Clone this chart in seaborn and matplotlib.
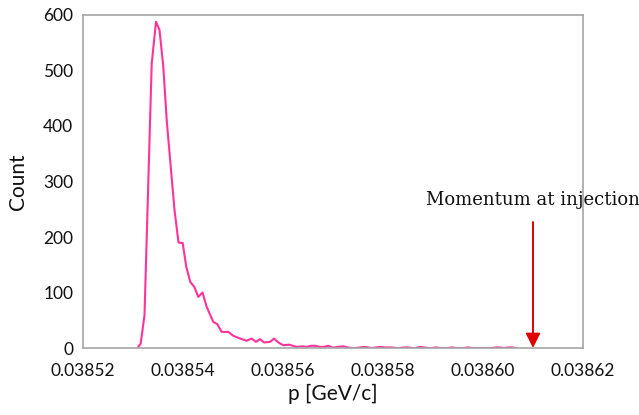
import numpy as np
import pandas as pd
import matplotlib
matplotlib.use("Agg")
import matplotlib.pyplot as plt
import seaborn as sns

# momentum bins [GeV/c]
p_values = [
    0.0385309, 0.03853154, 0.0385323, 0.03853374, 0.0385346, 0.0385353,
    0.03853606, 0.03853674, 0.03853754, 0.0385383, 0.0385391, 0.03853994,
    0.03854066, 0.03854146, 0.03854226, 0.03854306, 0.0385439, 0.03854474,
    0.03854606, 0.03854686, 0.03854774, 0.03854906, 0.03855006, 0.03855174,
    0.03855274, 0.03855374, 0.0385546, 0.0385554, 0.0385562, 0.0385574,
    0.0385582, 0.03855906, 0.03856006, 0.0385612, 0.03856274, 0.0385638,
    0.03856474, 0.0385656, 0.0385664, 0.0385674, 0.0385682, 0.03856906,
    0.03857, 0.038571, 0.03857206, 0.038573,
    0.0385738, 0.0385746, 0.0385754, 0.0385762, 0.038577, 0.0385778,
    0.0385786, 0.0385794, 0.0385802, 0.038581, 0.0385818, 0.0385826,
    0.0385834, 0.0385842, 0.038585, 0.0385858, 0.0385866, 0.0385874,
    0.0385882, 0.038589, 0.0385898, 0.0385906, 0.0385914, 0.0385922,
    0.038593, 0.0385938, 0.0385946, 0.0385954, 0.0385962, 0.038597,
    0.0385978, 0.0385986, 0.0385994, 0.0386002, 0.038601, 0.0386018,
    0.0386026, 0.0386034, 0.0386042, 0.038605, 0.0386058, 0.0386066,
]
counts = [
    0, 8, 59, 512, 588, 573,
    507, 411, 327, 249, 190, 189,
    146, 119, 110, 92, 100, 74,
    47, 43, 29, 29, 22, 16,
    13, 17, 11, 16, 10, 11,
    17, 10, 5, 6, 2, 3,
    2, 4, 4, 2, 2, 4,
    0.5, 2, 3, 1,
    0, 0, 1, 2, 1, 0,
    1, 2, 1, 1, 1, 0,
    0, 1, 1, 0, 0, 2,
    1, 0, 0, 1, 0, 0,
    0, 1, 0, 0, 0, 1,
    0, 0, 0, 0, 0, 0,
    1, 1, 0, 1, 1, 0,
]

x_ticks = [0.03852, 0.03854, 0.03856, 0.03858, 0.03860, 0.03862]
x_tick_labels = ["0.03852", "0.03854", "0.03856", "0.03858", "0.03860", "0.03862"]
y_ticks = [0, 100, 200, 300, 400, 500, 600]
injection_p = 0.03861
annotation_text = "Momentum at injection"

df = pd.DataFrame({"p": p_values, "count": counts})

sns.set_theme(style="white")
plt.rcParams["font.family"] = ["Lato", "DejaVu Sans"]

fig = plt.figure(figsize=(6.39, 4.15), dpi=100)
ax = fig.add_axes([83 / 639, 1 - 348 / 415, 500 / 639, 333 / 415])

sns.lineplot(data=df, x="p", y="count", ax=ax, color="#ff3399", linewidth=1.5,
             zorder=2)

ax.set_xlim(0.03852, 0.03862)
ax.set_ylim(0, 600)
ax.set_xticks(x_ticks)
ax.set_xticklabels(x_tick_labels)
ax.set_yticks(y_ticks)
ax.set_yticklabels([str(v) for v in y_ticks])

for s in ax.spines.values():
    s.set_color("#a6a6a6")
    s.set_linewidth(1.2)
    s.set_zorder(3)

ax.tick_params(axis="both", which="both", direction="out", length=3, width=1,
               color="#bfbfbf", labelsize=12.5, labelcolor="#111111")
ax.tick_params(axis="x", pad=8)
ax.tick_params(axis="y", pad=4)

ax.set_xlabel("p [GeV/c]", fontsize=15, labelpad=3, color="#111111")
ax.set_ylabel("Count", fontsize=15, labelpad=11, color="#111111")

ax.annotate("", xy=(injection_p, 0), xytext=(injection_p, 227),
            arrowprops=dict(arrowstyle="-|>", color="#e00000", lw=1.4,
                            mutation_scale=22, shrinkA=0, shrinkB=0),
            zorder=4, annotation_clip=False)
ax.text(injection_p, 250, annotation_text, ha="center", va="bottom",
        fontsize=13, family=["DejaVu Serif"], color="#111111")

fig.savefig("out.png", dpi=100)
